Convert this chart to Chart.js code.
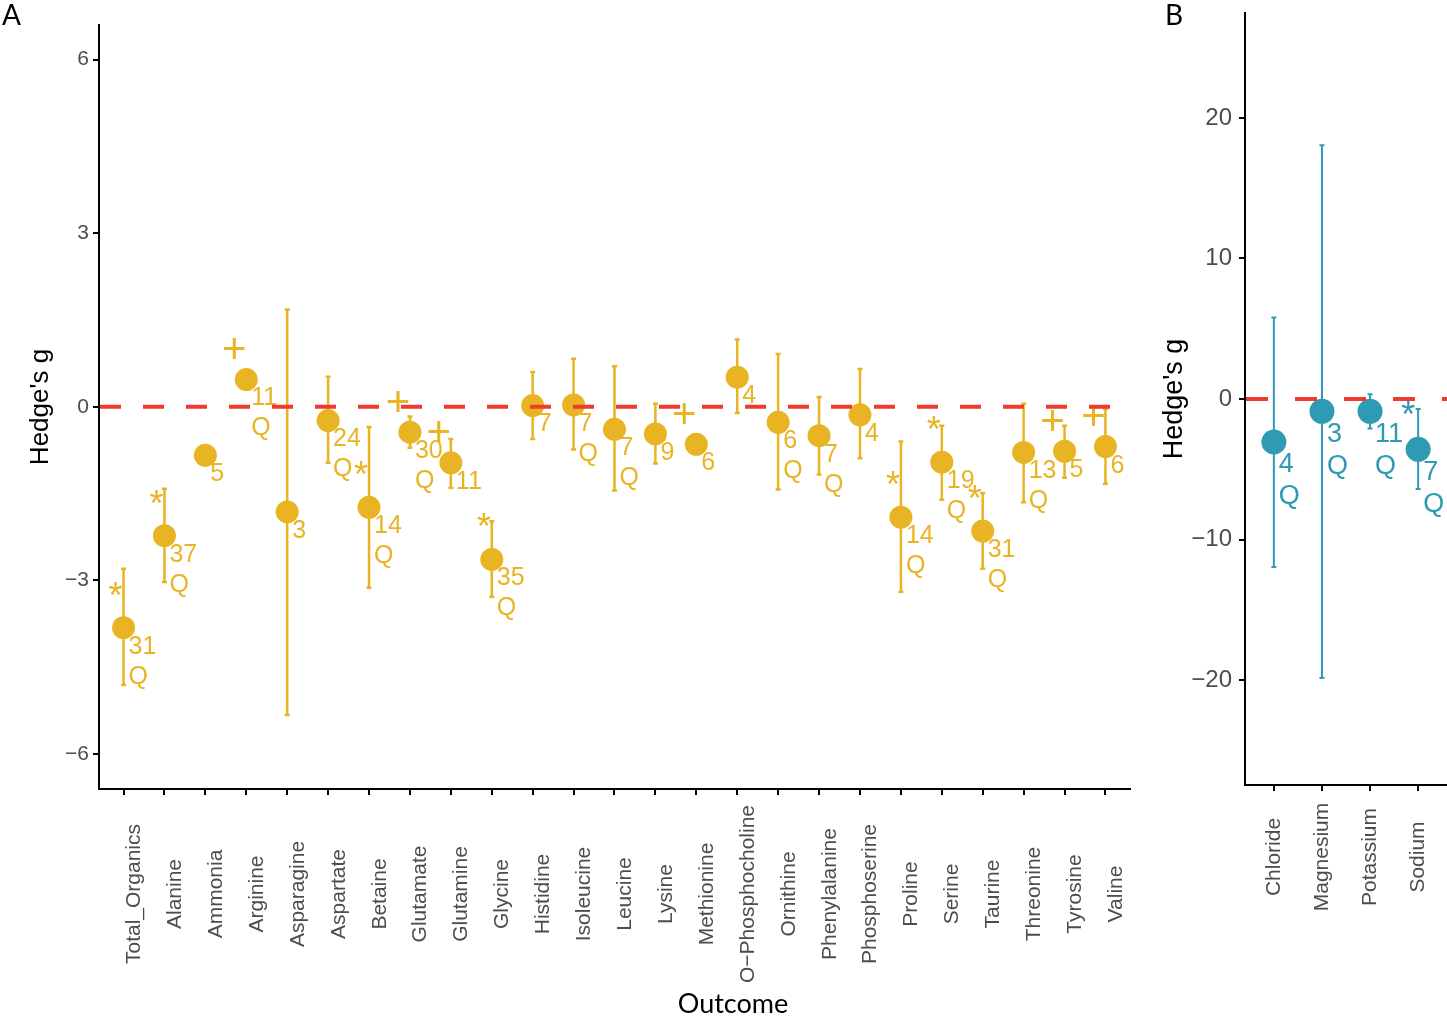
<!DOCTYPE html>
<html>
<head>
<meta charset="utf-8">
<script src="https://cdn.jsdelivr.net/npm/chart.js@4.4.1/dist/chart.umd.min.js"></script>
<style>
  body { margin: 0; background: #fff; }
  #wrap { position: relative; width: 1447px; height: 1016px; overflow: hidden; }
  canvas { position: absolute; top: 0; }
</style>
</head>
<body>
<div id="wrap">
  <canvas id="chartA" width="1150" height="1016" style="left:0"></canvas>
  <canvas id="chartB" width="297" height="1016" style="left:1150px"></canvas>
</div>
<script>
// panel A - organics
var catsA = ['Total_Organics','Alanine','Ammonia','Arginine','Asparagine','Aspartate','Betaine','Glutamate',
  'Glutamine','Glycine','Histidine','Isoleucine','Leucine','Lysine','Methionine','O\u2212Phosphocholine',
  'Ornithine','Phenylalanine','Phosphoserine','Proline','Serine','Taurine','Threonine','Tyrosine','Valine'];
var gA  = [-3.82,-2.23,-0.84,0.47,-1.82,-0.24,-1.74,-0.44,-0.97,-2.64,0.02,0.03,-0.39,-0.47,-0.65,0.51,-0.27,-0.50,-0.14,-1.91,-0.96,-2.15,-0.79,-0.77,-0.69];
var loA = [-4.81,-3.03,null,null,-5.33,-0.97,-3.13,-0.71,-1.40,-3.29,-0.56,-0.74,-1.45,-0.98,null,-0.11,-1.43,-1.17,-0.89,-3.20,-1.61,-2.80,-1.65,-1.23,-1.33];
var hiA = [-2.80,-1.42,null,null,1.68,0.52,-0.35,-0.17,-0.56,-1.98,0.60,0.83,0.70,0.05,null,1.16,0.91,0.17,0.65,-0.60,-0.33,-1.49,0.05,-0.33,-0.04];
var nA  = [31,37,5,11,3,24,14,30,11,35,7,7,7,9,6,4,6,7,4,14,19,31,13,5,6];
var qA  = ['Q','Q','','Q','','Q','Q','Q','','Q','','Q','Q','','','','Q','Q','','Q','Q','Q','Q','',''];
var sigA = ['*','*','','+','','','*','+','+','*','','','','','+','','','','','*','*','*','','+','+'];
var yTicksA = [-6,-3,0,3,6];

// panel B - ions
var catsB = ['Chloride','Magnesium','Potassium','Sodium'];
var gB  = [-3.06,-0.88,-0.88,-3.58];
var loB = [-11.96,-19.86,-2.10,-6.41];
var hiB = [5.80,18.06,0.34,-0.72];
var nB  = [4,3,11,7];
var qB  = ['Q','Q','Q','Q'];
var sigB = ['','','','*'];
var yTicksB = [-20,-10,0,10,20];

var GOLD = '#E8B423';
var TEAL = '#2E9AB4';
var RED = '#EE3B2E';
var SANS = "'Liberation Sans', Arial, sans-serif";

function minus(v){ return String(v).replace('-', '\u2212'); }

function panelPlugin(p){
  return {
    id: 'panel' + p.letter,
    beforeDatasetsDraw: function(chart){
      var ctx = chart.ctx, x = chart.scales.x, y = chart.scales.y;
      ctx.save();
      ctx.strokeStyle = p.color;
      ctx.lineWidth = p.barWidth;
      for (var i = 0; i < p.lo.length; i++){
        if (p.lo[i] == null) continue;
        var px = x.getPixelForValue(i);
        var y1 = y.getPixelForValue(p.lo[i]), y2 = y.getPixelForValue(p.hi[i]);
        ctx.beginPath();
        ctx.moveTo(px, y1); ctx.lineTo(px, y2);
        ctx.moveTo(px - 2.5, y1); ctx.lineTo(px + 2.5, y1);
        ctx.moveTo(px - 2.5, y2); ctx.lineTo(px + 2.5, y2);
        ctx.stroke();
      }
      ctx.restore();
    },
    afterDatasetsDraw: function(chart){
      var ctx = chart.ctx, x = chart.scales.x, y = chart.scales.y, a = chart.chartArea;
      ctx.save();
      ctx.fillStyle = p.color;
      for (var i = 0; i < p.g.length; i++){
        var px = x.getPixelForValue(i), py = y.getPixelForValue(p.g[i]);
        ctx.textAlign = 'left';
        ctx.textBaseline = 'middle';
        ctx.font = p.labelSize + 'px ' + SANS;
        ctx.fillText(String(p.n[i]), px + 5, py + p.nOff);
        if (p.q[i]) ctx.fillText(p.q[i], px + 5, py + p.qOff);
        ctx.textAlign = 'center';
        if (p.sig[i] == '*'){
          ctx.font = '36px ' + SANS;
          ctx.fillText('*', px - p.starDx, py - p.starDy);
        } else if (p.sig[i] == '+'){
          ctx.font = '42px ' + SANS;
          ctx.fillText('+', px - 12, py - 28);
        }
      }
      // zero reference line
      var y0 = y.getPixelForValue(0);
      ctx.strokeStyle = RED;
      ctx.lineWidth = 4;
      ctx.setLineDash(p.dash);
      ctx.beginPath();
      ctx.moveTo(a.left + 1, y0);
      ctx.lineTo(a.right, y0);
      ctx.stroke();
      ctx.restore();
    },
    afterDraw: function(chart){
      var ctx = chart.ctx, x = chart.scales.x;
      ctx.save();
      ctx.fillStyle = '#4D4D4D';
      ctx.font = '21px ' + SANS;
      ctx.textAlign = 'center';
      ctx.textBaseline = 'alphabetic';
      for (var i = 0; i < p.cats.length; i++){
        ctx.save();
        ctx.translate(x.getPixelForValue(i) + p.labelShift, p.labelMid);
        ctx.rotate(-Math.PI / 2);
        ctx.fillText(p.cats[i], 0, 0);
        ctx.restore();
      }
      ctx.fillStyle = '#000';
      ctx.textAlign = 'left';
      ctx.font = '28px Lato, sans-serif';
      ctx.fillText(p.letter, p.letterX, 25);
      if (p.outcome){
        ctx.textAlign = 'center';
        ctx.font = '27px Lato, sans-serif';
        ctx.fillText('Outcome', 733, 1013);
      }
      ctx.restore();
    }
  };
}

function makePanel(id, p){
  return new Chart(document.getElementById(id), {
    type: 'scatter',
    data: {
      datasets: [{
        data: p.g.map(function(v, i){ return {x: i, y: v}; }),
        pointRadius: p.radius,
        pointHoverRadius: p.radius,
        pointBackgroundColor: p.color,
        pointBorderWidth: 0,
        borderWidth: 0
      }]
    },
    options: {
      responsive: false,
      animation: false,
      events: [],
      layout: { autoPadding: false, padding: p.padding },
      plugins: { legend: { display: false }, tooltip: { enabled: false } },
      scales: {
        x: {
          type: 'linear',
          min: -0.6,
          max: p.cats.length - 0.4,
          afterBuildTicks: function(s){ s.ticks = p.cats.map(function(c, i){ return {value: i}; }); },
          afterFit: function(s){ s.height = p.xHeight; s.paddingLeft = 0; s.paddingRight = 0; },
          ticks: { display: false },
          grid: { drawOnChartArea: false, drawTicks: true, tickLength: 6, color: '#000', lineWidth: 2 },
          border: { display: true, color: '#000', width: 2 }
        },
        y: {
          min: p.yMin,
          max: p.yMax,
          afterBuildTicks: function(s){ s.ticks = p.yTicks.map(function(v){ return {value: v}; }); },
          afterFit: function(s){ s.width = p.yWidth; s.paddingTop = 0; s.paddingBottom = 0; },
          ticks: {
            color: '#4D4D4D',
            font: { family: SANS, size: p.tickSize },
            padding: p.tickPad,
            callback: function(v){ return minus(v); }
          },
          grid: { drawOnChartArea: false, drawTicks: true, tickLength: 6, color: '#000', lineWidth: 2 },
          border: { display: true, color: '#000', width: 2 },
          title: {
            display: true,
            text: "Hedge's g",
            color: '#000',
            font: { family: SANS, size: p.titleSize },
            padding: { top: p.titlePad, bottom: 0 }
          }
        }
      }
    },
    plugins: [panelPlugin(p)]
  });
}

makePanel('chartA', {
  letter: 'A', letterX: 2, outcome: true,
  cats: catsA, g: gA, lo: loA, hi: hiA, n: nA, q: qA, sig: sigA, yTicks: yTicksA,
  yMin: -6.61, yMax: 6.60,
  color: GOLD, radius: 11.5, barWidth: 2.5,
  padding: { left: 0, right: 20, top: 25, bottom: 0 },
  xHeight: 227, yWidth: 99, tickSize: 21, tickPad: 4, titleSize: 26, titlePad: 25,
  labelSize: 25, nOff: 19, qOff: 49, starDx: 8, starDy: 30,
  dash: [21, 22], labelMid: 894, labelShift: 16.5
});

makePanel('chartB', {
  letter: 'B', letterX: 15, outcome: false,
  cats: catsB, g: gB, lo: loB, hi: hiB, n: nB, q: qB, sig: sigB, yTicks: yTicksB,
  yMin: -27.47, yMax: 27.47,
  color: TEAL, radius: 12.5, barWidth: 2,
  padding: { left: 0, right: 0, top: 13, bottom: 0 },
  xHeight: 231, yWidth: 95, tickSize: 24, tickPad: 7, titleSize: 27, titlePad: 8,
  labelSize: 27, nOff: 23, qOff: 55, starDx: 10, starDy: 32,
  dash: [22, 27], labelMid: 857, labelShift: 6
});
</script>
</body>
</html>
